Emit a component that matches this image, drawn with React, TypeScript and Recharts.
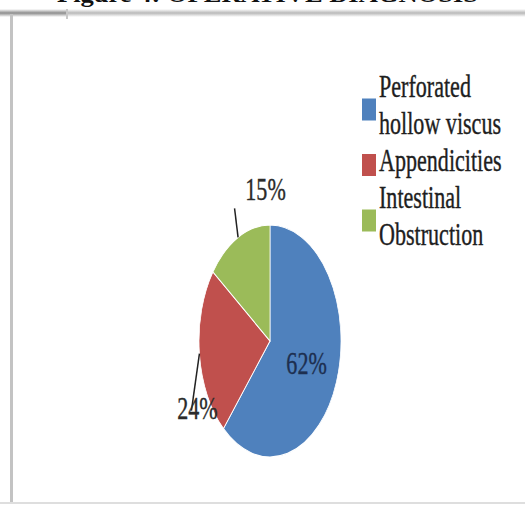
import { Cell, Legend, Pie, PieChart } from "recharts";

const CATEGORIES = [
  "Perforated hollow viscus",
  "Appendicities",
  "Intestinal Obstruction",
];
const PERCENTS = [62, 24, 15];
const COLORS = ["#4f81bd", "#c0504d", "#9bbb59"];
const TITLE = "Figure 4: OPERATIVE DIAGNOSIS";

const W = 525;
const H = 505;
const CX = 270;
const CY = 341;
const R = 116;
// the original picture is squeezed sideways: pie is an ellipse, text is narrow
const PIE_SQUASH = 0.612;
const TEXT_SQUASH = 0.69;
const FONT = '"Liberation Serif", "Times New Roman", serif';
const RAD = Math.PI / 180;

const LEGEND_LEFT = 355;
const LEGEND_TOP = 60;
const LEGEND_FIRST = 37;
const LEGEND_LINE = 37;

// label placement, relative to the edge of each slice
const LABEL_LAYOUT: Array<{
  inside?: number;
  line?: [number, number];
  text?: [number, number];
}> = [
  { inside: 0.55 },
  { line: [-8, 57], text: [6, 8] },
  { line: [-3.5, -29], text: [31, -8] },
];

const data = CATEGORIES.map((name, i) => ({ name, value: PERCENTS[i] }));

function renderLabel(props: any) {
  const { cx, cy, midAngle, outerRadius, value, index } = props;
  const layout = LABEL_LAYOUT[index] ?? {};
  const cos = Math.cos(-midAngle * RAD);
  const sin = Math.sin(-midAngle * RAD);
  const label = `${value}%`;

  if (layout.inside) {
    const x = cx + cos * outerRadius * PIE_SQUASH * layout.inside;
    const y = cy + sin * outerRadius * layout.inside;
    return (
      <text
        transform={`translate(${x},${y}) scale(${TEXT_SQUASH},1)`}
        textAnchor="middle"
        dominantBaseline="central"
        fontFamily={FONT}
        fontSize={32}
        fill="#1d2f50"
        stroke="#1d2f50"
        strokeWidth={0.4}
      >
        {label}
      </text>
    );
  }

  const ex = cx + cos * outerRadius * PIE_SQUASH;
  const ey = cy + sin * outerRadius;
  const [ldx, ldy] = layout.line ?? [0, 0];
  const [tdx, tdy] = layout.text ?? [0, 0];
  const lx = ex + ldx;
  const ly = ey + ldy;
  return (
    <g>
      <line x1={ex} y1={ey} x2={lx} y2={ly} stroke="#222" strokeWidth={1.5} />
      <text
        transform={`translate(${lx + tdx},${ly + tdy}) scale(${TEXT_SQUASH},1)`}
        textAnchor="middle"
        fontFamily={FONT}
        fontSize={32}
        fill="#2b2b2b"
        stroke="#2b2b2b"
        strokeWidth={0.4}
      >
        {label}
      </text>
    </g>
  );
}

function LegendContent({ payload }: any) {
  const items = [...(payload ?? [])].sort(
    (a: any, b: any) => CATEGORIES.indexOf(a.value) - CATEGORIES.indexOf(b.value),
  );
  let row = 0;
  return (
    <svg width={170} height={200} style={{ display: "block", overflow: "visible" }}>
      {items.map((entry: any) => {
        const i = CATEGORIES.indexOf(entry.value);
        const space = entry.value.indexOf(" ");
        const lines =
          space > 0 && entry.value.length > 14
            ? [entry.value.slice(0, space), entry.value.slice(space + 1)]
            : [entry.value];
        const top = LEGEND_FIRST + row * LEGEND_LINE;
        row += lines.length;
        const mid = top - 6 + ((lines.length - 1) * LEGEND_LINE) / 2;
        return (
          <g key={entry.value}>
            <rect x={7} y={mid - 11} width={14} height={22} fill={COLORS[i]} />
            {lines.map((t, j) => (
              <text
                key={t}
                transform={`translate(24,${top + j * LEGEND_LINE}) scale(${TEXT_SQUASH},1)`}
                fontFamily={FONT}
                fontSize={32}
                fill="#1e1e1e"
                stroke="#1e1e1e"
                strokeWidth={0.4}
              >
                {t}
              </text>
            ))}
          </g>
        );
      })}
    </svg>
  );
}

function Frame() {
  return (
    <svg width={W} height={H} style={{ position: "absolute", left: 0, top: 0 }}>
      <defs>
        <linearGradient id="band" x1="0" y1="0" x2="0" y2="1">
          <stop offset="0%" stopColor="#ffffff" />
          <stop offset="50%" stopColor="#b9b9b9" />
          <stop offset="100%" stopColor="#ffffff" />
        </linearGradient>
        <linearGradient id="bandDark" x1="0" y1="0" x2="0" y2="1">
          <stop offset="0%" stopColor="#ffffff" />
          <stop offset="50%" stopColor="#8d8d8d" />
          <stop offset="100%" stopColor="#ffffff" />
        </linearGradient>
      </defs>
      <rect x={0} y={9} width={W} height={8} fill="url(#band)" />
      <rect x={0} y={9} width={66} height={8} fill="url(#bandDark)" />
      <rect x={66} y={9} width={2} height={10} fill="#c8c8c8" />
      <rect x={10} y={14} width={3} height={489} fill="#c3c3c3" />
      <rect x={0} y={502} width={W} height={2} fill="#dedede" />
      <text
        x={57}
        y={2}
        fontFamily={FONT}
        fontWeight="bold"
        fontSize={24}
        textLength={421}
        lengthAdjust="spacingAndGlyphs"
        fill="#111"
      >
        {TITLE}
      </text>
    </svg>
  );
}

export default function App() {
  return (
    <div
      className="op-chart"
      style={{
        position: "absolute",
        left: 0,
        top: 0,
        width: W,
        height: H,
        background: "#fff",
        overflow: "hidden",
      }}
    >
      <style>{`.op-chart path.recharts-sector { transform: scaleX(${PIE_SQUASH}); transform-origin: ${CX}px ${CY}px; }`}</style>
      <Frame />
      <div style={{ position: "absolute", left: 0, top: 0 }}>
        <PieChart width={W} height={H} margin={{ top: 0, right: 0, bottom: 0, left: 0 }}>
          <Pie
            data={data}
            dataKey="value"
            nameKey="name"
            cx={CX}
            cy={CY}
            outerRadius={R}
            startAngle={90}
            endAngle={-270}
            stroke="#ffffff"
            strokeWidth={1.2}
            label={renderLabel}
            labelLine={false}
            isAnimationActive={false}
          >
            {data.map((d, i) => (
              <Cell key={d.name} fill={COLORS[i]} />
            ))}
          </Pie>
          <Legend
            layout="vertical"
            align="right"
            verticalAlign="middle"
            content={<LegendContent />}
            wrapperStyle={{ left: LEGEND_LEFT, top: LEGEND_TOP, width: 170, height: 200 }}
          />
        </PieChart>
      </div>
    </div>
  );
}
